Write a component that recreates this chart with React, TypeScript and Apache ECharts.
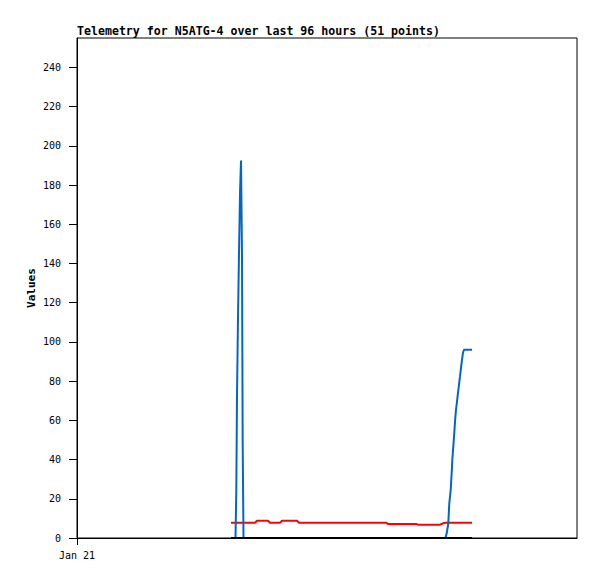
import React, { useEffect, useRef } from "react";
import * as echarts from "echarts";

// hours since Jan 21 00:00
const hours = [
  29.57, 29.95, 30.43, 30.59, 30.72, 30.91, 31.1, 31.3, 31.49, 31.68,
  31.81, 31.97, 34.18, 34.56, 36.67, 37.06, 38.98, 39.36, 42.24, 42.62,
  48.58, 54.34, 59.33, 59.71, 65.09, 65.47, 69.7, 70.27, 70.75, 70.98,
  71.29, 71.48, 71.75, 71.94, 72.06, 72.25, 72.44, 72.63, 72.77, 72.96,
  73.15, 73.34, 73.54, 73.73, 73.92, 74.11, 74.3, 74.69, 75.07, 75.46,
  75.84,
];

const blueValues = [
  0, 0, 0, 24.5, 72, 112, 144.5, 176, 192.5, 144.5,
  48.5, 0, 0, 0, 0, 0, 0, 0, 0, 0,
  0, 0, 0, 0, 0, 0, 0, 0, 0, 2.4,
  7.5, 17.7, 24.5, 33.2, 39.8, 46.6, 53.6, 61.3, 65.4, 69.6,
  74.0, 78.1, 82.4, 86.8, 90.9, 94.5, 96, 96, 96, 96,
  96,
];

const redValues = [
  7.8, 7.8, 7.8, 7.8, 7.8, 7.8, 7.8, 7.8, 7.8, 7.8,
  7.8, 7.8, 7.8, 8.8, 8.8, 7.8, 7.8, 8.8, 8.8, 7.8,
  7.8, 7.8, 7.8, 7.2, 7.2, 6.8, 6.8, 7.5, 7.8, 7.8,
  7.8, 7.8, 7.8, 7.8, 7.8, 7.8, 7.8, 7.8, 7.8, 7.8,
  7.8, 7.8, 7.8, 7.8, 7.8, 7.8, 7.8, 7.8, 7.8, 7.8,
  7.8,
];

const blackValues = hours.map(() => 0);

const yTicks = [0, 20, 40, 60, 80, 100, 120, 140, 160, 180, 200, 220, 240];
const xTicks = [0];
const xTickLabels = ["Jan 21"];

const title = "Telemetry for N5ATG-4 over last 96 hours (51 points)";
const yName = "Values";

const FONT = "DejaVu Sans Mono";

export default function App() {
  const ref = useRef<HTMLDivElement>(null);
  useEffect(() => {
    if (!ref.current) return;
    const chart = echarts.init(ref.current, null, { renderer: "svg" });
    const pair = (vals: number[]) => hours.map((h, i) => [h, vals[i]]);
    chart.setOption({
      animation: false,
      backgroundColor: "#ffffff",
      title: {
        text: title,
        left: 72,
        top: 20,
        textStyle: {
          fontFamily: FONT,
          fontWeight: "bold",
          fontSize: 11.6,
          color: "#000",
        },
      },
      grid: {
        left: 77,
        top: 38,
        right: 20,
        bottom: 41,
        show: true,
        borderColor: "#000",
        borderWidth: 1,
        backgroundColor: "transparent",
      },
      xAxis: {
        type: "value",
        min: 0,
        max: 96,
        axisLine: { show: true, lineStyle: { color: "#000", width: 1 } },
        axisTick: {
          show: true,
          length: 7,
          customValues: xTicks,
          lineStyle: { color: "#000" },
        },
        axisLabel: {
          customValues: xTicks,
          margin: 12,
          fontFamily: FONT,
          fontSize: 10,
          color: "#000",
          formatter: (v: number) => {
            const i = xTicks.indexOf(v);
            return i >= 0 ? xTickLabels[i] : "";
          },
        },
        splitLine: { show: false },
      },
      yAxis: {
        type: "value",
        min: 0,
        max: 255,
        name: yName,
        nameLocation: "middle",
        nameGap: 40,
        nameMoveOverlap: false,
        nameTextStyle: {
          fontFamily: FONT,
          fontWeight: "bold",
          fontSize: 11,
          color: "#000",
        },
        axisLine: { show: true, lineStyle: { color: "#000", width: 1 } },
        axisTick: {
          show: true,
          length: 8,
          customValues: yTicks,
          lineStyle: { color: "#000" },
        },
        axisLabel: {
          customValues: yTicks,
          margin: 16,
          fontFamily: FONT,
          fontSize: 10,
          color: "#000",
        },
        splitLine: { show: false },
      },
      series: [
        {
          type: "line",
          data: pair(redValues),
          showSymbol: false,
          lineStyle: { color: "#ff0000", width: 2 },
          itemStyle: { color: "#ff0000" },
          z: 2,
        },
        {
          type: "line",
          data: pair(blueValues),
          showSymbol: false,
          lineStyle: { color: "#0066cc", width: 2 },
          itemStyle: { color: "#0066cc" },
          z: 3,
        },
        {
          type: "line",
          data: pair(blackValues),
          showSymbol: false,
          lineStyle: { color: "#000000", width: 2 },
          itemStyle: { color: "#000000" },
          z: 4,
        },
      ],
    });
    return () => chart.dispose();
  }, []);
  return (
    <div
      ref={ref}
      style={{ position: "fixed", left: 0, top: 0, width: 597, height: 579 }}
    />
  );
}
